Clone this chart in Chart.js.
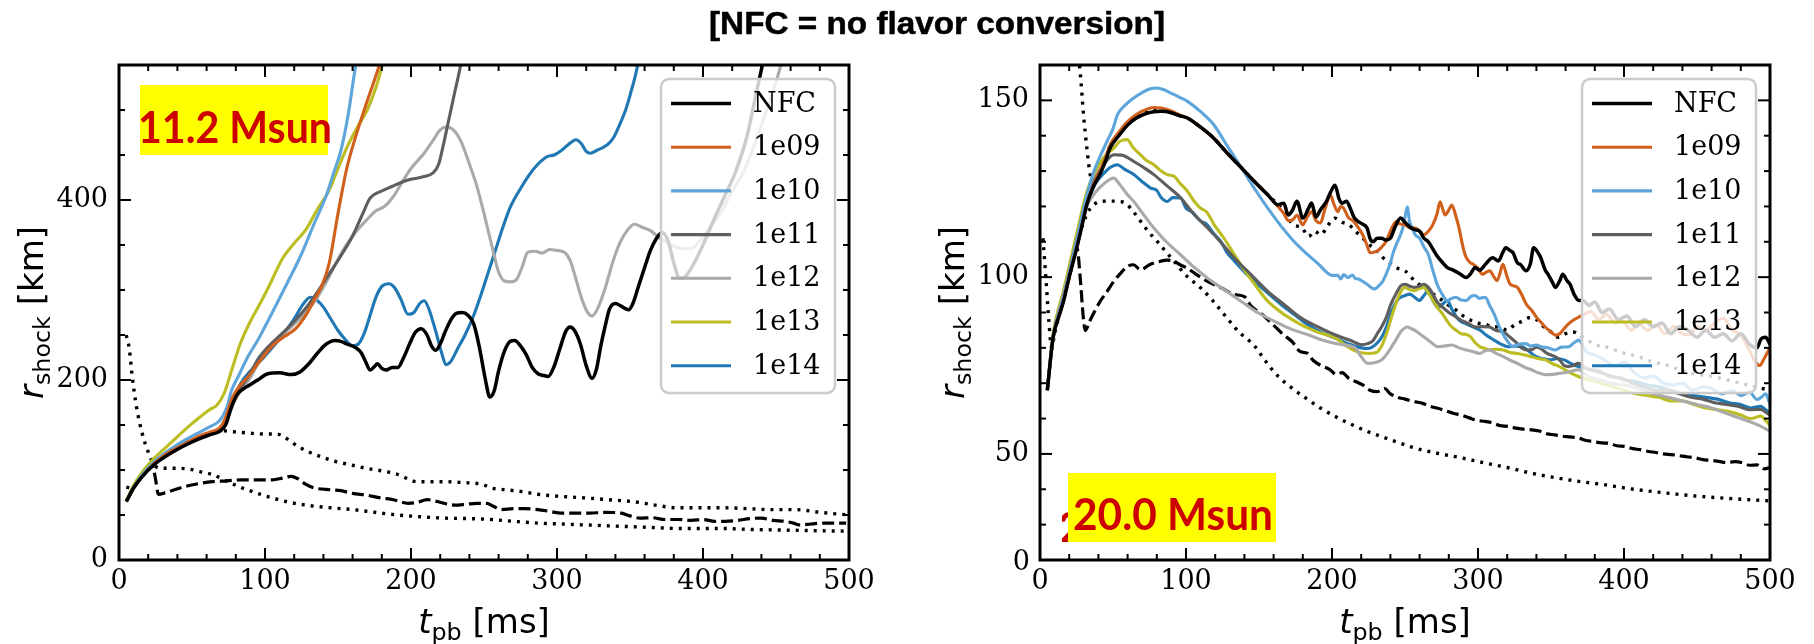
<!DOCTYPE html>
<html>
<head>
<meta charset="utf-8">
<script src="https://cdn.jsdelivr.net/npm/chart.js@4.4.1/dist/chart.umd.min.js"></script>
<style>
  html, body { margin: 0; padding: 0; background: #fff; }
  #wrap { position: relative; width: 1814px; height: 644px; overflow: hidden; background: #fff; }
  canvas { position: absolute; top: 0; }
  #c11 { left: 0; }
  #c20 { left: 907px; }
  #title { position: absolute; left: 709px; top: 8px; font: bold 31px "Liberation Sans", Arial, sans-serif;
           line-height: 31px; white-space: nowrap; transform-origin: 0 0; color: #000;
           -webkit-text-stroke: 0.5px #000; }
</style>
</head>
<body>
<div id="wrap">
  <canvas id="c11" width="907" height="644"></canvas>
  <canvas id="c20" width="907" height="644"></canvas>
  <div id="title">[NFC = no flavor conversion]</div>
</div>
<script>
// ---- shock radius r_shock [km] vs post-bounce time t_pb [ms] ----
// each series is a list of [t_pb, r_shock] samples

// 11.2 Msun progenitor
const m11_nfc = [[5,65],[10,80],[16,93],[24,106],[30,113],[38,121],[46,128],[54,134],[62,139],[69,143],[73,150],[77,170],[81,184],[85,190],[89,194],[95,200],[102,207],[110,208],[118,206],[124,209],[130,218],[136,230],[142,240],[148,244],[152,243],[156,240],[162,236],[166,230],[169,220],[172,211],[175,215],[177,218],[180,213],[183,211],[187,214],[191,214],[195,225],[199,240],[203,253],[207,257],[211,250],[214,238],[217,233],[220,240],[223,252],[227,266],[231,274],[235,275],[239,272],[243,262],[247,235],[251,200],[254,181],[257,188],[260,210],[264,232],[268,243],[271,244],[275,238],[279,228],[283,214],[287,207],[291,205],[294,204],[298,215],[302,235],[306,254],[309,259],[312,255],[316,240],[320,216],[324,202],[327,212],[330,238],[333,260],[336,279],[340,285],[344,282],[349,278],[352,285],[356,305],[360,325],[364,344],[368,357],[372,364],[376,355],[380,330],[384,313],[388,315],[394,330],[400,350],[408,380],[415,405],[422,430],[430,470],[436,515],[442,560]];
const m11_e09 = [[5,65],[10,80],[16,93],[24,107],[30,115],[38,123],[46,130],[54,137],[62,142],[69,147],[73,158],[77,178],[81,190],[89,205],[96,220],[105,238],[113,248],[121,257],[128,272],[134,290],[139,305],[144,330],[150,385],[156,435],[162,470],[170,510],[178,548],[182,570]];
const m11_e10 = [[5,65],[10,81],[16,95],[24,109],[30,117],[38,126],[46,134],[54,141],[62,148],[69,155],[74,170],[77,188],[82,205],[88,225],[96,247],[105,275],[115,307],[125,340],[134,375],[142,405],[147,430],[152,455],[157,495],[162,548],[165,570]];
const m11_e11 = [[5,65],[10,80],[16,93],[24,107],[30,115],[38,123],[46,130],[54,136],[62,141],[69,145],[75,165],[81,185],[89,205],[96,225],[104,240],[112,252],[120,265],[128,280],[136,298],[144,318],[152,338],[160,360],[167,385],[172,402],[180,410],[187,415],[194,420],[200,423],[209,426],[215,430],[219,440],[222,460],[226,490],[230,520],[234,550],[236,570]];
const m11_e12 = [[5,65],[10,80],[16,93],[24,107],[30,115],[38,123],[46,130],[54,136],[62,141],[69,144],[75,163],[81,182],[89,200],[96,220],[104,237],[112,250],[120,262],[128,275],[136,292],[144,315],[152,340],[160,360],[168,375],[176,388],[182,393],[188,404],[194,420],[200,435],[209,452],[215,466],[220,478],[224,481],[229,478],[234,466],[240,440],[245,416],[250,385],[256,345],[260,320],[264,310],[268,309],[272,311],[276,325],[280,342],[285,343],[290,341],[295,345],[300,344],[305,342],[309,333],[313,312],[317,290],[321,275],[324,271],[328,280],[333,302],[338,330],[343,352],[348,366],[353,373],[358,370],[364,366],[370,358],[378,350],[386,346],[392,346],[398,355],[405,370],[413,388],[420,410],[428,432],[436,465],[445,507],[453,548],[456,570]];
const m11_e13 = [[5,66],[10,83],[16,98],[24,113],[30,122],[38,134],[46,146],[54,157],[62,167],[67,172],[72,185],[77,210],[83,240],[89,262],[96,283],[103,305],[112,335],[120,352],[128,367],[136,390],[144,411],[150,435],[156,458],[163,480],[170,500],[176,525],[180,548],[183,570]];
const m11_e14 = [[5,65],[10,80],[16,93],[24,107],[30,115],[38,123],[46,130],[54,136],[62,141],[69,144],[75,160],[83,195],[90,210],[98,223],[105,236],[112,250],[120,268],[126,284],[131,292],[136,288],[140,281],[145,268],[150,255],[155,245],[160,238],[164,240],[168,252],[172,272],[176,292],[180,304],[185,307],[189,302],[193,290],[198,273],[202,275],[206,285],[209,288],[212,280],[215,265],[218,248],[221,230],[224,217],[227,220],[232,235],[237,250],[243,272],[248,295],[253,320],[258,345],[263,370],[268,392],[274,410],[281,428],[287,440],[293,448],[298,450],[303,455],[308,462],[313,467],[317,462],[320,454],[323,452],[327,455],[331,458],[335,462],[339,470],[343,484],[347,500],[351,522],[355,548],[357,570]];
const m11_dash = [[5,65],[10,80],[16,93],[21,102],[23,104],[25,90],[27,73],[32,75],[38,78],[46,82],[55,85],[64,87],[74,88],[83,89],[94,89],[105,89],[112,91],[118,93],[123,90],[128,84],[134,80],[145,78],[152,77],[160,74],[170,72],[179,69],[188,67],[198,63],[204,64],[211,67],[218,65],[225,62],[230,61],[238,62],[245,63],[252,63],[256,60],[262,56],[270,57],[278,57],[287,56],[295,54],[303,52],[312,52],[322,52],[333,53],[344,52],[350,49],[357,46.5],[365,47],[374,45],[383,45],[392,44],[400,45],[408,43],[415,43],[424,44],[432,46],[440,46.5],[448,44],[456,43],[462,41],[466,39],[474,40],[482,41],[490,41],[498,41]];
const m11_dot1 = [[5,250],[7,235],[9,205],[12,170],[16,140],[20,120],[24,106],[29,102],[38,102],[48,101],[56,98],[64,95],[72,89],[83,81],[95,74],[105,69],[117,64],[128,61],[145,58],[160,56],[175,53],[191,50],[207,48],[223,46.5],[240,46],[255,45],[270,43],[287,41],[303,40],[319,39],[335,38],[351,37],[367,36],[383,35],[399,35],[415,35],[431,34],[447,33.5],[463,33],[480,32.5],[500,32]];
const m11_dot2 = [[5,81],[8,80],[10,81],[16,94],[24,107],[30,114],[38,122],[46,129],[54,135],[62,140],[69,144],[75,143],[82,142],[89,141],[100,140],[108,140],[113,137],[118,131],[124,125],[130,120],[138,115],[147,110],[158,106],[169,102],[180,99],[191,95],[198,90],[204,87],[213,87],[223,87],[235,86],[249,84],[255,80],[265,78],[276,76],[287,73],[300,71],[319,69],[335,67],[351,65],[360,63],[367,61],[383,58],[399,58],[415,58],[431,57],[447,56],[463,56],[480,53],[500,50]];

// 20.0 Msun progenitor
const m20_nfc = [[5,68],[9,83],[13,89],[16,93],[20,100],[25,108],[29,115],[32,120.5],[37,126],[41,129],[45,133],[48,136.5],[54,140],[60,143],[66,145],[72,146.2],[78,146.8],[83,146.9],[90,146.5],[96,145.6],[101,145],[110,142.4],[119,139.3],[128,135.2],[138,130.9],[147,127],[156,123.3],[163,120.5],[167,120.9],[170,117.6],[173,119],[176,121.5],[180,116.7],[184,119.5],[186,121],[189,117],[192,119],[196,121.3],[199,124],[202,126],[205,122],[207,120.9],[210,121.5],[212,120],[215,117],[218,115.7],[221,115],[224,113.9],[226,111],[228,110],[231,111],[234,111],[237,110.5],[240,111],[243,114],[247,116.7],[250,115.5],[253,114.3],[256,113.5],[260,113],[263,111],[266,110],[269,108],[272,106],[276,104],[279,102.7],[283,102],[288,100.8],[292,99.9],[295,101],[298,102.7],[301,102],[305,103.6],[308,105],[310,105.5],[314,104.6],[317,107],[319,108.3],[322,107.5],[324,106.9],[327,104],[329,103.6],[333,101.8],[336,104],[338,108.3],[341,107],[343,105.5],[346,102],[348,100.8],[351,98.5],[353,97.1],[356,99],[358,100.8],[361,99],[363,98],[366,95],[369,93.4],[372,93.4],[376,92],[380,93],[385,90],[390,91],[396,88],[402,89],[408,86],[414,88],[420,86],[426,87],[432,84],[438,86],[444,85],[450,83],[456,85],[462,83],[468,84],[474,82],[480,84],[486,81],[491,80],[494,82.6],[497,83],[500,81]];
const m20_e09 = [[5,68],[9,83],[13,89],[16,93],[20,100],[25,108],[29,115],[32,120.5],[37,126.5],[41,130],[45,134],[48,137.5],[54,141],[60,144],[66,146],[72,147.3],[78,148],[83,147.8],[90,147],[96,145.8],[101,145],[110,142.4],[119,139.3],[128,135.2],[138,130.9],[147,127],[156,123.3],[163,120],[167,118],[170,116],[173,116.2],[176,117.5],[180,114.8],[183,117],[186,118.5],[189,116],[192,115.3],[195,119],[199,123.2],[201,121],[204,118.5],[206,120],[208,119.5],[211,117],[215,115.7],[218,114],[221,112],[224,109],[226,106.9],[228,107],[231,107.4],[234,108.5],[237,110.1],[240,113],[244,115.7],[247,115],[250,114.8],[253,114],[257,113.9],[260,113],[263,112],[266,113],[269,114.8],[272,118],[274,121.3],[276,119],[277.5,117.6],[280,119],[282,120.4],[285,117],[287,113.9],[290,108],[292,105.5],[295,104],[297,103.6],[300,102.5],[303,100.8],[306,101.5],[308,101.8],[311,100],[313,99],[315,101],[317,103.6],[320,100],[322,98],[325,97.5],[327,97.1],[330,95],[333,92.4],[337,90.5],[340,88.7],[343,87.3],[346,85.9],[350,84.5],[353,83.6],[356,84],[359,85.5],[362,86.8],[366,88],[369,88.7],[373,89.5],[377,90.3],[383,88],[388,89.5],[394,87],[399,87.5],[405,85],[410,87],[416,85],[422,86.5],[428,84],[434,86],[440,84],[445,83.7],[450,86],[456,85],[462,87],[468,88.4],[474,85],[480,83.7],[485,80],[490,76],[493,75],[496,77],[500,80]];
const m20_e10 = [[5,68],[9,83],[16,94],[25,110],[32,123],[37,130],[41,134],[46,138.5],[50,142],[53,145.9],[58,148.5],[64,150.6],[70,152.2],[75,153.2],[80,153.5],[85,153],[90,152],[96,150.8],[101,149.7],[110,146.8],[119,143.1],[128,137.3],[138,130.9],[147,125],[156,119.5],[165,114.5],[174,110.1],[183,106.5],[192,103.2],[196,101.5],[200,100.5],[204,100.5],[206,99.5],[208,100.7],[211,99.9],[214,100.6],[216,99.6],[218,99.5],[221,98.8],[224,98],[227,97],[229,96.6],[232,97.5],[235,99],[237,100.8],[240,104],[242,107],[244,109.2],[247,112],[248.5,113.9],[250,117],[251.7,119.9],[253,116],[255,113.9],[257,112],[260,111],[263,108.5],[266,106.4],[269,102],[272,98],[275,95.5],[279,93.4],[282,94],[285,94.3],[288,93.6],[292,93.4],[295,94.5],[298,94.8],[301,94],[305,94.3],[308,92],[311,89.6],[314,86.5],[317,84],[320,82],[324,80.3],[328,81],[333,81.2],[336,80.5],[340,80.8],[343,80.3],[348,80],[353,79.4],[357,80.2],[362,80.3],[366,81.5],[369,82.2],[374,79],[380,78],[387,76.5],[394,75],[400,76],[407,73],[414,71.5],[420,72],[427,70],[434,69.5],[440,70],[447,68],[454,69],[460,68.5],[467,67],[474,68],[480,66.5],[486,67.5],[491,65.4],[494,66],[497,67],[500,64]];
const m20_e11 = [[5,68],[9,83],[16,94],[25,110],[32,122],[38,128],[44,132],[50.5,134.6],[56,134.5],[64.3,132.7],[71,131],[78,129],[87,125.8],[96.4,122.4],[105,118],[114.8,113.9],[124,109.8],[133.1,105.4],[145,100.5],[156,96],[168,92],[179,88.4],[190,86],[202,83.7],[212,82.2],[220.4,80.9],[224.4,81.2],[228,82],[231,84],[234,86],[237.3,88.7],[240,92],[243.7,95.2],[247,97.5],[250,98],[253,97.5],[256.5,97.1],[260,97.5],[263,98],[265,97.5],[267.7,96.2],[270,94.5],[272,93],[275.7,91.5],[280,90],[284,89],[288.5,87.8],[293,87],[298.2,85.9],[303,86],[307.8,85.9],[312,85],[317.4,84.5],[322,83],[327,81.2],[330,80],[333.4,79.4],[337,79.5],[340,80.2],[343,79.8],[347,78.5],[352.7,77.5],[356,76.5],[359,75],[362.3,74.7],[365,75],[368.7,75.6],[375,74],[382,73.5],[390,72],[398,71.5],[406,70],[414,69],[422,68],[430,68],[438,67],[446,66],[454,65.5],[462,64.5],[470,64],[478,63.5],[486,62.5],[493.7,62.6],[497,61.8],[500,61]];
const m20_e12 = [[5,68],[9,83],[16,95],[25,110],[32,120],[38,124],[44,126.5],[50.5,128],[55,126],[60,123.3],[64.3,121.4],[70,118.2],[78,113.9],[87,109.8],[96.4,106.3],[105,103],[114.8,99.7],[126,96.5],[137.7,93.2],[149,90],[160.6,87.5],[172,85.3],[183.6,83.7],[195,82],[205,81],[215.8,80],[220,77.5],[224.4,75.6],[229,75.8],[234,76.6],[238,78.5],[243.7,82.2],[247,84.5],[251.7,85.9],[254,85.5],[256.5,85],[260,84],[263,83.1],[268,81.5],[272.5,80.3],[277,80.5],[282.1,80.8],[287,80],[291.8,79.4],[296,79],[301.4,78.4],[304,79],[307.8,79.4],[312,78.5],[317.4,77.5],[322,76.5],[327,75.6],[332,74.5],[336.6,73.8],[341,73],[346.3,72.4],[351,72.5],[355.9,72.8],[362,73.2],[368.7,73.8],[375,72],[383,71],[391,70],[400,69.5],[410,68.5],[420,67],[430,66],[440,65],[450,64],[460,63],[470,61.5],[480,60],[490,58.5],[500,56.5]];
const m20_e13 = [[5,68],[9,84],[16,96],[25,112],[32,124],[38,130],[44,134],[50.5,136.5],[55,138.5],[59.7,138.9],[64,136.5],[68.9,134.6],[73,133],[78,131.8],[83,130],[87.2,129],[92,128.5],[96,126.5],[101,124.3],[105.7,121.4],[110,119.5],[114,118.5],[119.4,114.8],[126,111],[133.1,106.4],[140,102],[147,98],[156,93.2],[167,89.5],[179,86.5],[190,84.5],[202,82.8],[212,80],[218,78.8],[224.4,78.4],[230,78.6],[234,80.5],[237.3,84],[241,89],[245.3,94.3],[248,96.5],[250,97.1],[253,96.5],[256.5,96.2],[260,96.8],[263,97.1],[266,95.5],[269.3,93.4],[272,91.5],[275.7,89.6],[279,87.5],[282.1,85.9],[285,85],[288.5,84],[292,83.8],[295,83.1],[298,81.5],[301.4,80.3],[305,79.8],[307.8,79.4],[312,79.6],[317.4,79.4],[322,78.7],[327,78.4],[332,78],[336.6,77.5],[341,77],[346.3,76.6],[351,75.5],[355.9,74.7],[362,73.2],[368.7,71.9],[376,71],[384,70],[392,69],[400,68],[408,67],[416,66.5],[424,66],[432,65],[440,65],[448,64],[456,63],[464,62.5],[472,62],[480,61],[487,60],[493.7,60.7],[497,59.5],[500,58]];
const m20_e14 = [[5,68],[9,83],[16,95],[25,111],[32,121],[38,126.5],[44,129.5],[48,131],[52.8,131.8],[58,130.5],[64.3,129],[70,127],[75.8,125.2],[80,124.5],[83,122.5],[87.2,121.4],[91,122.5],[96.4,122.4],[100,119.5],[104,118.5],[110.2,115.8],[114,115],[119.4,112.1],[124,110],[128,107],[133.1,104.6],[140,101.5],[146.9,98.8],[156,95.5],[165.3,92.2],[174,89.5],[183.6,86.5],[192,84.5],[202,82.8],[212,81],[220,80],[224.4,79.8],[230,81],[234,83],[237.3,86],[241,90.5],[244,93],[246.9,94.3],[250,94.8],[253.3,95.2],[256,94.5],[259.7,93.4],[263,94.8],[266,96.2],[269,93.5],[272.5,91.5],[276,92.5],[279,93.4],[282,91],[285.3,88.7],[288,87.5],[291.8,86.8],[296,86],[301.4,85],[306,83.5],[311,82.2],[316,81],[320.6,80.3],[325,80.5],[330.2,80.3],[335,79],[339.8,77.5],[344,77],[349.5,76.6],[354,77],[359,76.6],[364,75.5],[368.7,74.7],[376,74],[384,73],[392,72],[400,71],[408,70.5],[416,69.5],[424,69],[432,68],[440,67],[448,66.5],[456,66],[464,65.5],[472,64.5],[480,64],[487,63],[493.7,63.5],[497,62.5],[500,61.6]];
const m20_dash = [[5,68],[9,83],[16,94],[20,100],[24,107],[25.5,108],[27.5,100],[29.8,88],[31,84.9],[34,87.5],[37,90],[41.3,93.2],[46,96],[50.5,98.8],[55,101],[59.7,103],[64,103.5],[68.9,102.1],[75,103.5],[82.6,104.5],[87,104.8],[91.8,104.5],[96,103.5],[101,102.5],[108,100.5],[114.8,98.8],[124,97],[133.1,95.1],[140,94.5],[144.3,92],[146.9,91],[152,89.5],[160.3,86.3],[166,84],[173,81.6],[178,79],[183,78.5],[187,76.5],[192.4,75],[198,74],[203,72.5],[207,73],[211.6,71.3],[216,70.5],[221,69.5],[226,68],[230.8,67.6],[236,68.5],[240,67],[245,66],[250,65.5],[256.5,64.8],[262,64.3],[267,63.5],[272.5,62.9],[278,62.2],[283,61.5],[288.5,61],[294,60.2],[299,59.5],[304.6,59.2],[310,58.8],[315,58],[320.6,57.8],[326,57.3],[331,57],[336.6,56.8],[342,56.5],[347,55.7],[352.7,55.4],[358,55],[363,54.8],[368.7,54.5],[374,53.8],[379,53.5],[384.7,53.1],[390,53],[395,52.3],[400.8,52.1],[406,51.5],[411,51.2],[416.8,50.7],[422,50.4],[427,50],[432.8,49.8],[438,49.5],[443,49.2],[448.9,48.9],[454,48.4],[459,48.2],[464.9,47.9],[470,47.6],[476,47.8],[481,47.5],[486,46.8],[491,46.9],[496,45.8],[500,46.1]];
const m20_dot1 = [[23,175],[25,166],[27.5,158],[29.8,146],[32.1,136.5],[34.4,129],[36.7,127],[41,129.5],[45,133.5],[48,137],[54,140.5],[60,143.5],[66,145.5],[72,146.8],[78,147.3],[83,147.2],[90,146.6],[96,145.6],[101,145],[110,142.4],[119,139.3],[128,135.2],[138,130.9],[147,127],[156,123.3],[163,120.5],[168,118],[173,115],[179.5,113.9],[184,111.5],[188,113],[192.4,112],[197,114.5],[202,116.7],[207,115.5],[211.6,114.8],[216,113],[221.2,111],[226,109],[230.8,107.4],[235,105.5],[240.5,103.7],[245,102.5],[250,101.8],[256.5,99],[261,97.5],[266,96.2],[270,95],[275.7,93.4],[280,92],[285.3,90.6],[290,89],[295,87.8],[300,87],[304.6,86.8],[309,86],[314.2,85.9],[320,85],[325,86.5],[330,87.5],[335,88.5],[340,88],[345,86],[350,84.5],[355,83],[360,84],[365,84.5],[370,83.5],[380,81],[390,80],[400,78.5],[410,77.5],[420,76],[430,75],[440,73.5],[450,72.5],[460,72],[470,71],[480,70],[490,69],[500,68]];
const m20_dot2 = [[2,111],[4,100],[6,88],[8,80],[10,84],[13,89],[16,93.5],[20,100],[25,108.5],[29,114.5],[33,118.5],[37,120.5],[41.3,121.4],[48,121.5],[55,121.4],[59.7,120.5],[64,118.5],[68.9,115.8],[74,113],[80.3,110.1],[86,107.3],[91.8,104.5],[100,100.5],[110.2,96.9],[118,93.5],[128,88.5],[135,85],[147,80.5],[154,76.5],[163,72],[173,68.5],[183,65.5],[192,63],[205,60],[215,58],[224,56.4],[240,54],[256.5,51.7],[272,50.2],[288.5,48.9],[304,47.5],[320.6,46.1],[336,44.6],[352.7,43.3],[368,42.3],[384.7,41.4],[400,40.4],[416.8,39.5],[432,38.8],[448.9,38.1],[465,37.6],[480,37.2],[500,36.7]];

// legend entries and line colours
const runLabels = ['NFC', '1e09', '1e10', '1e11', '1e12', '1e13', '1e14'];
const runColors = ['#000000', '#d0601c', '#5da5da', '#5e5e5e', '#aaaaaa', '#bcbd22', '#1f77b4'];
const runWidths = [3.5, 3.1, 3.1, 3.1, 3.1, 3.1, 3.1];

// axis tick values
const xTicksMajor = [0, 100, 200, 300, 400, 500];
const y11Major = [0, 200, 400];
const y20Major = [50, 100, 150];

function toPoints(arr) { return arr.map(p => ({ x: p[0], y: p[1] })); }

function buildDatasets(runs, dash, dots) {
  const ds = runs.map((arr, i) => ({
    label: runLabels[i], data: toPoints(arr), borderColor: runColors[i], borderWidth: runWidths[i],
    pointRadius: 0, fill: false, cubicInterpolationMode: 'monotone'
  }));
  ds.push({ label: '', data: toPoints(dash), borderColor: '#000', borderWidth: 3.2, borderDash: [12, 5],
            pointRadius: 0, fill: false, cubicInterpolationMode: 'monotone' });
  dots.forEach(d => ds.push({ label: '', data: toPoints(d), borderColor: '#000', borderWidth: 3.4, borderDash: [3, 6],
            pointRadius: 0, fill: false, cubicInterpolationMode: 'monotone' }));
  return ds;
}

function drawMath(ctx, parts, size) {
  // parts: [text, italic, subscript]
  let w = 0;
  const fonts = parts.map(p => {
    const s = p[2] ? size * 0.7 : size;
    const f = (p[1] ? 'italic ' : '') + s + 'px "DejaVu Sans"';
    ctx.font = f; const pw = ctx.measureText(p[0]).width; w += pw;
    return { f, pw, dy: p[2] ? size * 0.22 : 0 };
  });
  let x = -w / 2;
  parts.forEach((p, i) => {
    ctx.font = fonts[i].f; ctx.fillText(p[0], x, fonts[i].dy); x += fonts[i].pw;
  });
}

function massTag(ctx, box, text, tx, base, tw, ghostClip) {
  ctx.save();
  ctx.font = 'bold 44px Lato, "Open Sans", sans-serif';
  const w = ctx.measureText(text).width;
  const k = tw / w;
  if (ghostClip) {
    ctx.save();
    ctx.beginPath(); ctx.rect(ghostClip[0], box.y, ghostClip[1] - ghostClip[0], box.h); ctx.clip();
    ctx.translate(ghostClip[0] - 4, base); ctx.scale(k, 1);
    ctx.fillStyle = '#cc0000'; ctx.fillText(text.charAt(0), 0, 0);
    ctx.restore();
  }
  ctx.fillStyle = '#ffff00';
  ctx.fillRect(box.x, box.y, box.w, box.h);
  ctx.translate(tx, base); ctx.scale(k, 1);
  ctx.fillStyle = '#cc0000'; ctx.textBaseline = 'alphabetic';
  ctx.fillText(text, 0, 0);
  ctx.restore();
}

const decor = {
  id: 'decor',
  afterDatasetsDraw(chart, args, o) {
    const { ctx, chartArea: a, scales: { x, y } } = chart;
    ctx.save();
    ctx.setLineDash([]);
    // inward ticks on all four sides
    ctx.strokeStyle = '#000'; ctx.lineWidth = 2;
    const seg = (x1, y1, x2, y2) => { ctx.beginPath(); ctx.moveTo(x1, y1); ctx.lineTo(x2, y2); ctx.stroke(); };
    x.ticks.forEach(t => {
      const px = x.getPixelForValue(t.value);
      const len = xTicksMajor.includes(t.value) ? 12 : 6;
      seg(px, a.bottom, px, a.bottom - len); seg(px, a.top, px, a.top + len);
    });
    y.ticks.forEach(t => {
      const py = y.getPixelForValue(t.value);
      const len = o.yMajor.includes(t.value) ? 12 : 6;
      seg(a.left, py, a.left + len, py); seg(a.right, py, a.right - len, py);
    });
    // frame
    ctx.lineWidth = 3;
    ctx.strokeRect(a.left, a.top, a.right - a.left, a.bottom - a.top);

    // legend box in the upper right corner
    const lw = 174, lh = 314;
    const lx = a.right - 14 - lw, ly = a.top + 14;
    ctx.beginPath(); ctx.roundRect(lx, ly, lw, lh, 8);
    ctx.fillStyle = 'rgba(255,255,255,0.8)'; ctx.fill();
    ctx.strokeStyle = '#cccccc'; ctx.lineWidth = 2.5; ctx.stroke();
    ctx.font = '27px "DejaVu Serif"'; ctx.textBaseline = 'middle'; ctx.textAlign = 'left';
    chart.data.datasets.filter(d => d.label).forEach((d, i) => {
      const yy = ly + 24.5 + i * 43.7;
      ctx.strokeStyle = d.borderColor; ctx.lineWidth = d.borderWidth;
      seg(lx + 10, yy, lx + 70, yy);
      ctx.fillStyle = '#000'; ctx.fillText(d.label, lx + 92, yy + 1);
    });

    // progenitor mass tag
    const m = o.tag;
    massTag(ctx, m.box, m.text, m.tx, m.base, m.tw, m.ghost);
    ctx.restore();
  },
  afterDraw(chart, args, o) {
    const { ctx, chartArea: a } = chart;
    ctx.save();
    ctx.fillStyle = '#000'; ctx.textBaseline = 'alphabetic'; ctx.textAlign = 'left';
    // x title
    ctx.save(); ctx.translate((a.left + a.right) / 2, 633);
    drawMath(ctx, [['t', true, false], ['pb', false, true], [' [ms]', false, false]], 34);
    ctx.restore();
    // y title
    ctx.save(); ctx.translate(a.left - 76, (a.top + a.bottom) / 2); ctx.rotate(-Math.PI / 2);
    drawMath(ctx, [['r', true, false], ['shock', false, true], [' [km]', false, false]], 34);
    ctx.restore();
    if (o.cornerZero) {
      ctx.font = '27px "DejaVu Serif"'; ctx.textAlign = 'right'; ctx.textBaseline = 'middle';
      ctx.fillText('0', a.left - 10, a.bottom + 3);
    }
    ctx.restore();
  }
};

function makeChart(id, datasets, yMin, yMax, yStep, yMajor, yAxisW, padRight, tag, cornerZero) {
  return new Chart(document.getElementById(id), {
    type: 'line',
    data: { datasets },
    options: {
      responsive: false, animation: false, devicePixelRatio: 1,
      layout: { padding: { top: 65, right: padRight, left: 0, bottom: 0 } },
      plugins: { legend: { display: false }, tooltip: { enabled: false },
                 decor: { yMajor, tag, cornerZero } },
      scales: {
        x: {
          type: 'linear', min: 0, max: 500,
          grid: { display: false, drawTicks: false }, border: { display: false },
          ticks: { stepSize: 20, autoSkip: false, maxRotation: 0, padding: 6, color: '#000',
                   font: { family: 'DejaVu Serif', size: 27 },
                   callback: v => xTicksMajor.includes(v) ? String(v) : '' },
          afterFit: s => { s.height = 84; }
        },
        y: {
          type: 'linear', min: yMin, max: yMax,
          grid: { display: false, drawTicks: false }, border: { display: false },
          ticks: { stepSize: yStep, autoSkip: false, padding: 11, color: '#000',
                   font: { family: 'DejaVu Serif', size: 27 },
                   callback: v => yMajor.includes(v) ? String(v) : '' },
          afterFit: s => { s.width = yAxisW; }
        }
      }
    },
    plugins: [decor]
  });
}

makeChart('c11',
  buildDatasets([m11_nfc, m11_e09, m11_e10, m11_e11, m11_e12, m11_e13, m11_e14], m11_dash, [m11_dot1, m11_dot2]),
  0, 550, 50, y11Major, 119, 58,
  { box: { x: 140, y: 85, w: 188, h: 70 }, text: '11.2 Msun', tx: 138, base: 143, tw: 194 }, false);

makeChart('c20',
  buildDatasets([m20_nfc, m20_e09, m20_e10, m20_e11, m20_e12, m20_e13, m20_e14], m20_dash, [m20_dot1, m20_dot2]),
  20, 160, 10, y20Major, 133, 44,
  { box: { x: 161, y: 473, w: 208, h: 69 }, text: '20.0 Msun', tx: 166, base: 530, tw: 200, ghost: [155, 161] }, true);

// title stretched to its span above the two panels
const title = document.getElementById('title');
const tw = title.getBoundingClientRect().width;
title.style.transform = 'scaleX(' + (456 / tw) + ')';
</script>
</body>
</html>
